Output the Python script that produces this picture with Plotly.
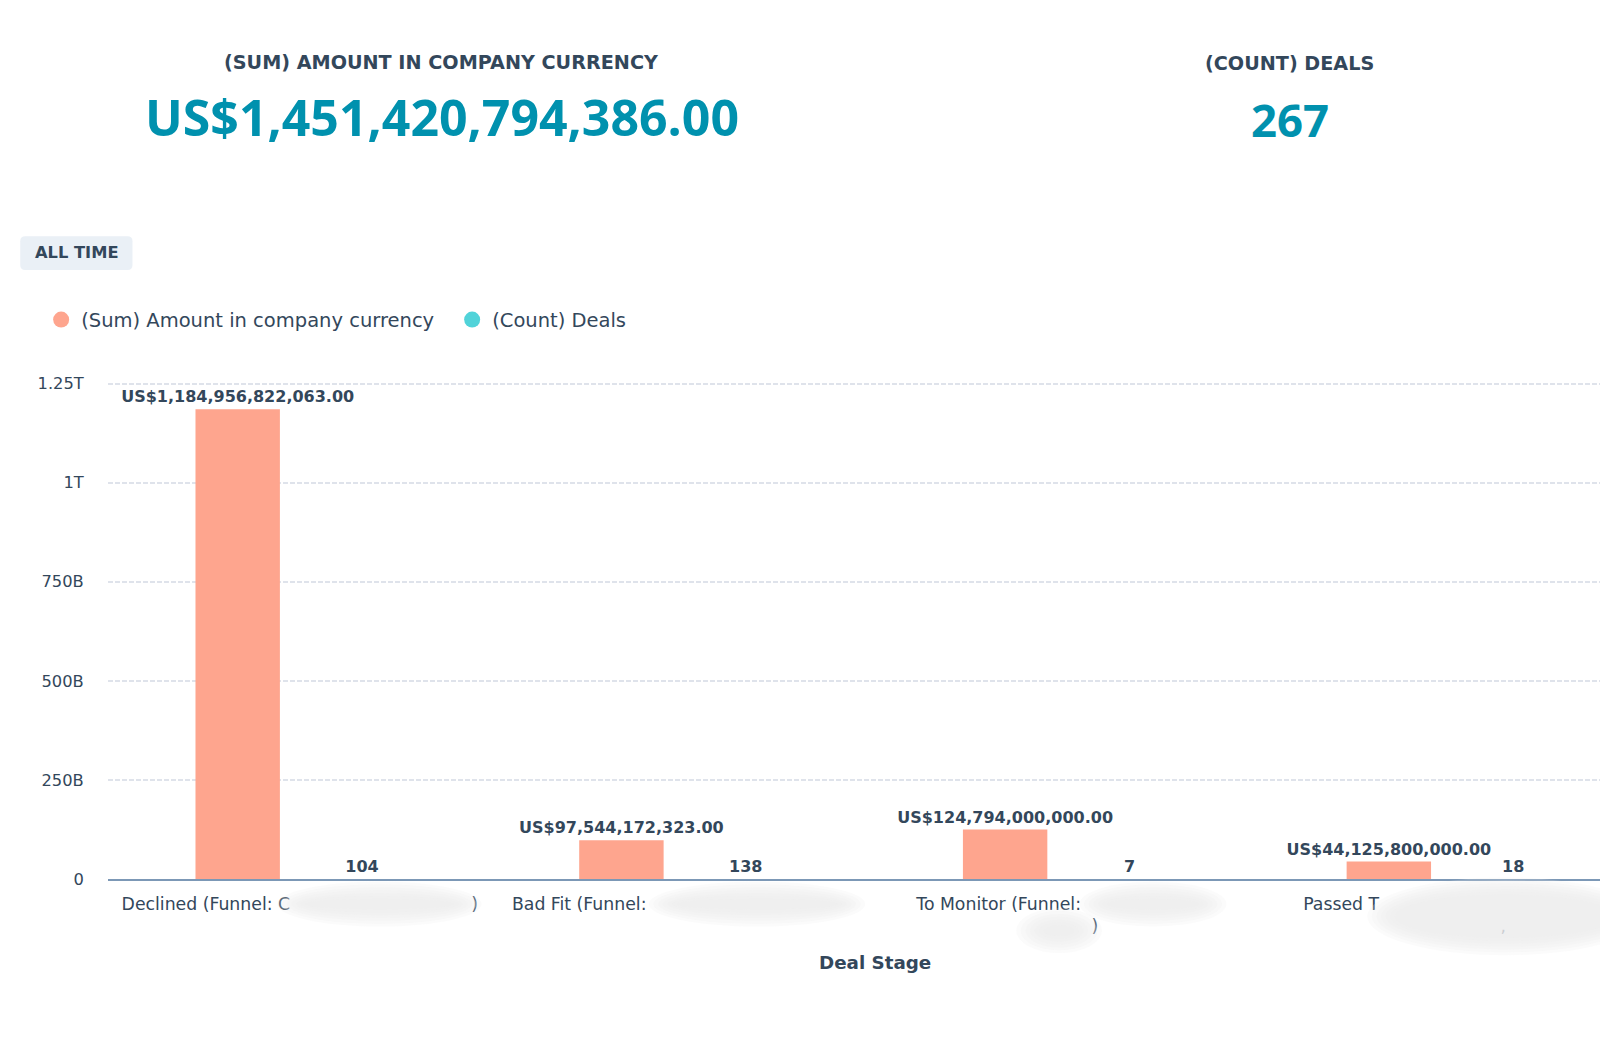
import plotly.graph_objects as go

# ---------------- data ----------------
stages = ["Declined", "Bad Fit", "To Monitor", "Passed"]
NB = "\u00a0"
stage_tick_labels = [
    "Declined (Funnel: C" + NB * 33 + ")",
    "Bad Fit (Funnel:" + NB * 38,
    "To Monitor (Funnel:" + NB * 25 + "<br>" + NB * 10 + ")",
    "Passed T" + NB * 40 + "<br>" + NB * 19 + ",",
]
amounts = [1184956822063.00, 97544172323.00, 124794000000.00, 44125800000.00]
deal_counts = [104, 138, 7, 18]
y_tick_vals = [0, 250e9, 500e9, 750e9, 1000e9, 1250e9]
y_tick_text = ["0", "250B", "500B", "750B", "1T", "1.25T"]

amount_labels = [f"US${v:,.2f}" for v in amounts]
count_labels = [str(c) for c in deal_counts]
total_amount = sum(amounts)
total_deals = sum(deal_counts)

# ---------------- styling ----------------
W, H = 1600, 1052
SC = 1600 / 1568.0          # measurement scale
L, R, T, B = 106 * SC, 1600, 384, 879
CAT_W = 376 * SC
Y_MAX = 1.254e12
DARK = "#33475b"
TEAL_TXT = "#0091ae"
ORANGE = "#fea58e"
TEAL = "#51d3d9"
FONT = "DejaVu Sans"
BIG_FONT = "Open Sans"

# plot height such that 1.25T gridline sits at T
PLOT_TOP = B - (B - T) * Y_MAX / 1.25e12


def px(x):
    return (x * SC - L) / (R - L)


def py(y):
    return (B - y * SC) / (B - PLOT_TOP)


fig = go.Figure()
fig.add_trace(go.Bar(
    x=stages, y=amounts, name="(Sum) Amount in company currency",
    marker=dict(color=ORANGE, line=dict(width=0)),
    text=amount_labels, textposition="outside", cliponaxis=False, constraintext="none",
    textfont=dict(family=FONT, size=16, color=DARK, weight="bold"),
    showlegend=False, hoverinfo="skip",
))
fig.add_trace(go.Bar(
    x=stages, y=deal_counts, name="(Count) Deals",
    marker=dict(color=TEAL, line=dict(width=0)),
    text=count_labels, textposition="outside", cliponaxis=False, constraintext="none",
    textfont=dict(family=FONT, size=16, color=DARK, weight="bold"),
    showlegend=False, hoverinfo="skip",
))
# legend entries with round markers
for nm, col in [("(Sum) Amount in company currency", ORANGE), ("(Count) Deals", TEAL)]:
    fig.add_trace(go.Scatter(
        x=[None], y=[None], mode="markers", name=nm,
        marker=dict(symbol="circle", size=17, color=col),
        showlegend=True,
    ))

annotations = [
    dict(text="<b>(SUM) AMOUNT IN COMPANY CURRENCY</b>", x=px(433), y=py(62),
         font=dict(family=FONT, size=19.2, color=DARK)),
    dict(text=f"<b>US${total_amount:,.2f}</b>", x=px(433), y=py(115),
         font=dict(family=BIG_FONT, size=50, color=TEAL_TXT)),
    dict(text="<b>(COUNT) DEALS</b>", x=px(1264), y=py(63),
         font=dict(family=FONT, size=19.2, color=DARK)),
    dict(text=f"<b>{total_deals}</b>", x=px(1264), y=py(117),
         font=dict(family=BIG_FONT, size=45.5, color=TEAL_TXT)),
    dict(text="<b>ALL TIME</b>", x=px(75.5), y=py(248),
         font=dict(family=FONT, size=16.3, color=DARK)),
    dict(text="<b>Deal Stage</b>", x=px(858), y=py(943),
         font=dict(family=FONT, size=18.3, color=DARK)),
]
for a in annotations:
    a.update(xref="paper", yref="paper", showarrow=False, xanchor="center", yanchor="middle")

shapes = []
# "ALL TIME" badge with rounded corners
x0, x1, y0, y1, r = px(20), px(130), py(265), py(232), 5
rx = r / (R - L)
ry = r / (B - PLOT_TOP)
path = (f"M {x0+rx},{y0} L {x1-rx},{y0} Q {x1},{y0} {x1},{y0+ry} L {x1},{y1-ry} "
        f"Q {x1},{y1} {x1-rx},{y1} L {x0+rx},{y1} Q {x0},{y1} {x0},{y1-ry} "
        f"L {x0},{y0+ry} Q {x0},{y0} {x0+rx},{y0} Z")
shapes.append(dict(type="path", path=path, xref="paper", yref="paper",
                   fillcolor="#eaf0f6", line=dict(width=0), layer="below"))

# soft blurred redaction blobs over category labels
blobs = [(272, 472, 864, 908), (636, 848, 864, 908), (1058, 1202, 864, 908),
         (996, 1080, 890, 934), (1340, 1610, 860, 936)]
for (bx0, bx1, by0, by1) in blobs:
    n = 7
    for k in range(n):
        ix = k * 4.5
        iy = k * 2.8
        shapes.append(dict(type="circle", xref="paper", yref="paper",
                           x0=px(bx0 + ix), x1=px(bx1 - ix), y0=py(by1 - iy), y1=py(by0 + iy),
                           fillcolor="#ebebeb", opacity=0.22, line=dict(width=0), layer="above"))

fig.update_layout(
    template="none",
    width=W, height=H,
    margin=dict(l=L, r=W - R, t=PLOT_TOP, b=H - B, pad=0, autoexpand=False),
    paper_bgcolor="white", plot_bgcolor="white",
    font=dict(family=FONT, color=DARK),
    barmode="group", bargap=0.352, bargroupgap=0.321,
    showlegend=True,
    legend=dict(orientation="h", x=px(40.5), y=py(314), xanchor="left", yanchor="middle",
                font=dict(family=FONT, size=19.5, color=DARK), bgcolor="rgba(0,0,0,0)",
                entrywidthmode="pixels", entrywidth=366, borderwidth=0,
                itemclick=False, itemdoubleclick=False),
    annotations=annotations,
    shapes=shapes,
    xaxis=dict(
        type="category", range=[-0.5, -0.5 + (R - L) / CAT_W], automargin=False,
        tickmode="array", tickvals=stages, ticktext=stage_tick_labels,
        tickfont=dict(family=FONT, size=17.3, color=DARK),
        showline=True, linecolor="#7c98b6", linewidth=1.5,
        showgrid=False, zeroline=False,
        ticks="outside", ticklen=8, tickcolor="rgba(0,0,0,0)",
        fixedrange=True,
    ),
    yaxis=dict(
        range=[0, Y_MAX], automargin=False,
        tickmode="array", tickvals=y_tick_vals, ticktext=y_tick_text,
        tickfont=dict(family=FONT, size=16.3, color=DARK),
        showgrid=True, gridcolor="#dfe3eb", griddash="5px,2px", gridwidth=1.5,
        zeroline=False, showline=False,
        ticks="outside", ticklen=20, tickcolor="rgba(0,0,0,0)",
        fixedrange=True,
    ),
)

fig.write_html("out.html", config={"displayModeBar": False},
               post_script="document.body.style.margin='0';document.body.style.overflow='hidden';")
